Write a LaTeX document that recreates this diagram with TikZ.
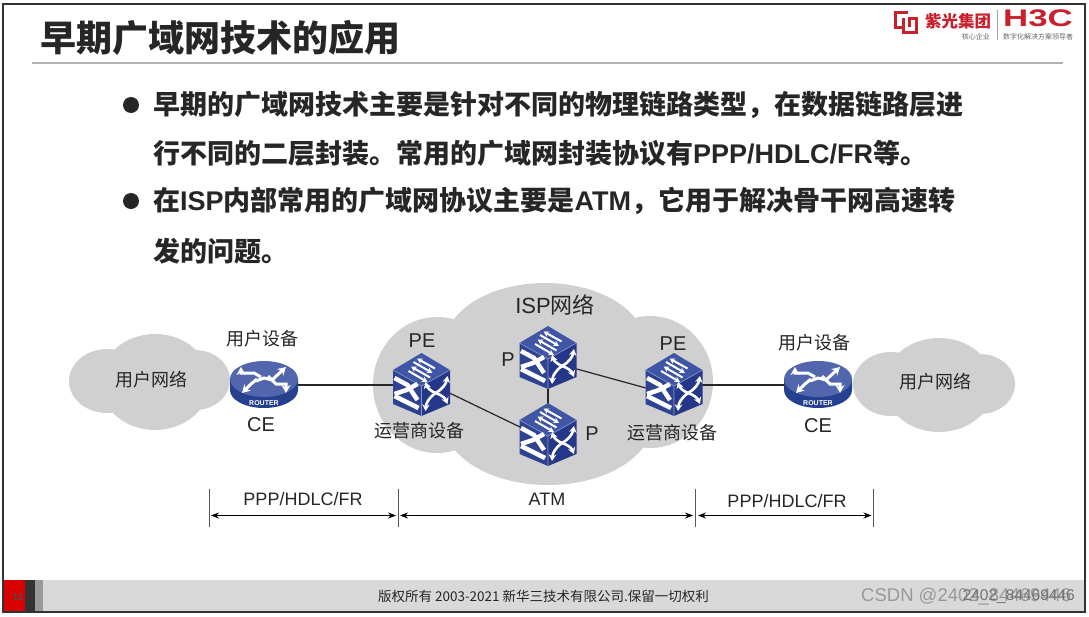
\documentclass[tikz,border=0pt]{standalone}
\usepackage{fontspec}
\setmainfont{Liberation Sans}
\newfontfamily\cjk{Noto Sans CJK SC}
\usetikzlibrary{arrows.meta}
\definecolor{cloudgray}{HTML}{D0D0D0}
\definecolor{inkdark}{HTML}{262626}
\definecolor{logored}{HTML}{C8202C}
\definecolor{icontop}{HTML}{3F55A5}
\definecolor{iconleft}{HTML}{2E4292}
\definecolor{iconright}{HTML}{253789}
\definecolor{iconside}{HTML}{24408F}
\newcommand{\lat}[1]{{\rmfamily\bfseries #1}}
\tikzset{
    cloudfill/.style={fill=cloudgray, draw=none},
    titletext/.style={anchor=west, inner sep=0pt, text=inkdark, font=\cjk\bfseries\fontsize{36}{36}\selectfont},
    bodytext/.style={anchor=west, inner sep=0pt, text=inkdark, font=\cjk\bfseries\fontsize{27}{27}\selectfont},
    bulletdot/.style={circle, fill=inkdark, inner sep=0pt, minimum size=16pt},
    labeltext/.style={inner sep=0pt, text=inkdark, font=\fontsize{18}{18}\selectfont},
    devtext/.style={inner sep=0pt, text=inkdark, font=\fontsize{20}{20}\selectfont},
    devbox/.style={inner sep=0pt, minimum width=56pt, minimum height=62pt},
    routerbox/.style={inner sep=0pt, minimum width=68pt, minimum height=48pt},
    link/.style={draw=inkdark, line width=1.2pt},
    tickline/.style={draw=black!65, line width=0.8pt},
    spanarrow/.style={draw=black, line width=0.8pt, {Stealth[length=8pt,width=6pt]}-{Stealth[length=8pt,width=6pt]}},
    iconarrow/.style={draw=white, line width=2.6pt, -{Stealth[length=6.5pt,width=7.5pt]}},
    toparrow/.style={draw=white, line width=2pt, -{Stealth[length=5.5pt,width=6pt]}},
    routerarrow/.style={draw=white, line width=3pt, -{Stealth[length=8pt,width=9pt]}},
    iconbar/.style={draw=white, line width=4.5pt},
    switchicon/.pic={
        \fill[icontop] (0,-32) -- (-28.5,-15) -- (0,1) -- (28.5,-15) -- cycle;
        \fill[iconleft] (-28.5,-15) -- (0,1) -- (0,31) -- (-28.5,19) -- cycle;
        \fill[iconright] (28.5,-15) -- (0,1) -- (0,31) -- (28.5,19) -- cycle;
        \draw[icontop!60!white, line width=0.6pt] (-28.5,-15) -- (0,1) -- (28.5,-15) (0,1) -- (0,31);
        % top face
        \draw[toparrow] (13.5,-16.5) -- (-4.5,-26.5);
        \draw[toparrow] (-8,-23) -- (11,-12);
        \draw[toparrow] (8.5,-7.5) -- (-10.5,-18.5);
        \draw[toparrow] (-13,-14) -- (6,-3);
        % left face
        \draw[iconbar] (-27,-7) -- (-14,0) -- (-4,15);
        \draw[iconbar] (-27,9) -- (-15,5) -- (-4,-1);
        \draw[iconbar] (-27,11) -- (-3,23);
        % right face
        \draw[iconarrow] (14,8) to[bend left=25] (4,-3);
        \draw[iconarrow] (14,8) to[bend right=25] (26,-9);
        \draw[iconarrow] (14,8) to[bend right=25] (4,26);
        \draw[iconarrow] (14,8) to[bend left=25] (26,19);
    },
    routericon/.pic={
        \fill[iconside] (-34,-6) -- (-34,5) arc[start angle=180, end angle=0, x radius=34, y radius=18] -- (34,-6) -- cycle;
        \fill[icontop!90!white] (0,-6) ellipse [x radius=34, y radius=18];
        \draw[routerarrow] (-3,-8) -- (-10,-12) -- (-23,-12) -- (-23,-18);
        \draw[routerarrow] (-8,-4) -- (0,-7) -- (8,-5) -- (22,-18);
        \draw[routerarrow] (-7,-6) -- (-13,-1) -- (-22,8);
        \draw[routerarrow] (4,-9) -- (12,-1) -- (22,-1) -- (22,8);
        \node[inner sep=0pt, text=white, font=\bfseries\fontsize{7}{7}\selectfont] at (0,18) {ROUTER};
    },
}
\begin{document}
\begin{tikzpicture}[x=1pt, y=-1pt]
    \useasboundingbox (0,0) rectangle (1089,616);
    \fill[white] (0,0) rectangle (1089,616);

    % footer bar
    \fill[black!15] (3,580) rectangle (1085,611);
    \fill[red!85!black] (3,580) rectangle (25,611);
    \fill[black!80] (25,580) rectangle (35,611);
    \fill[black!40] (35,580) rectangle (43,611);
    \node[inner sep=0pt, text=black!70, font=\bfseries\fontsize{10}{10}\selectfont] (pagenum) at (18,597) {11};
    \node[inner sep=0pt, text=inkdark, font=\cjk\fontsize{13.5}{13.5}\selectfont] (copyright) at (543.5,596) {版权所有 2003-2021 新华三技术有限公司.保留一切权利};

    % slide frame
    \draw[black!80, line width=2pt] (3,3.5) rectangle (1085,612);

    % title
    \node[titletext] (title) at (40,38) {早期广域网技术的应用};
    \draw[black!30, line width=2pt] (32,62.5) -- (1063,62.5);

    % logo
    \draw[logored, line width=3pt] (908,12) -- (895,12) -- (895,27) -- (903,27) (903,18) -- (903,32.5) -- (916,32.5) -- (916,18) -- (909,18) -- (909,27);
    \node[inner sep=0pt, anchor=west, text=logored, font=\cjk\bfseries\fontsize{16.5}{16.5}\selectfont] (logoname) at (925,21) {紫光集团};
    \node[inner sep=0pt, anchor=east, text=black!60, font=\cjk\fontsize{7}{7}\selectfont] (logosub) at (990,37) {核心企业};
    \draw[black!35, line width=0.8pt] (997,10) -- (997,40);
    \node[inner sep=0pt, anchor=west, text=logored, font=\bfseries\fontsize{24}{24}\selectfont] (hthreec) at (1003,18.5) {\scalebox{1.45}[1]{H3C}};
    \node[inner sep=0pt, anchor=west, text=black!60, font=\cjk\fontsize{7}{7}\selectfont] (hthreesub) at (1003,37) {数字化解决方案领导者};

    % bullets
    \node[bulletdot] (dota) at (131,105) {};
    \node[bulletdot] (dotb) at (131,201) {};
    \node[bodytext] (linea) at (153,105) {早期的广域网技术主要是针对不同的物理链路类型，在数据链路层进};
    \node[bodytext] (lineb) at (153,153) {行不同的二层封装。常用的广域网封装协议有\lat{PPP/HDLC/FR}等。};
    \node[bodytext] (linec) at (153,201) {在\lat{ISP}内部常用的广域网协议主要是\lat{ATM}，它用于解决骨干网高速转};
    \node[bodytext] (lined) at (153,251) {发的问题。};

    % clouds
    \foreach \cx/\cy/\rx/\ry in {107/381/38/32, 155/382/55/48, 195/380/35/30,
                                 891/384/38/32, 939/385/55/47, 980/384/35/30,
                                 545/345/100/62, 437/385/64/68, 650/382/63/66, 548/420/105/65}
        \fill[cloudfill] (\cx,\cy) ellipse [x radius=\rx, y radius=\ry];

    % devices
    \node[routerbox] (cea) at (264,385) {};
    \node[devbox] (pea) at (421.5,385) {};
    \node[devbox] (pa) at (548,358) {};
    \node[devbox] (pb) at (548,435) {};
    \node[devbox] (peb) at (674,385) {};
    \node[routerbox] (ceb) at (818,385) {};

    % links go under the icons
    \draw[link] (cea) -- (pea);
    \draw[link] (pea.-16) -- (pb.164);
    \draw[link] (pa) -- (pb);
    \draw[link] (pa.-21) -- (peb.186);
    \draw[link] (peb) -- (ceb);

    \pic at (cea) {routericon};
    \pic at (pea) {switchicon};
    \pic at (pa) {switchicon};
    \pic at (pb) {switchicon};
    \pic at (peb) {switchicon};
    \pic at (ceb) {routericon};

    % labels
    \node[labeltext] (neta) at (151,380) {\cjk 用户网络};
    \node[labeltext] (netb) at (935,382) {\cjk 用户网络};
    \node[labeltext, font=\fontsize{22}{22}\selectfont] (ispnet) at (555,305) {ISP{\cjk 网络}};
    \node[labeltext] (usera) at (262,339) {\cjk 用户设备};
    \node[labeltext] (userb) at (814,343) {\cjk 用户设备};
    \node[devtext] (cetexta) at (261,425) {CE};
    \node[devtext] (cetextb) at (818,426) {CE};
    \node[devtext] (petexta) at (422,341) {PE};
    \node[devtext] (petextb) at (673,344) {PE};
    \node[devtext] (ptexta) at (508,360) {P};
    \node[devtext] (ptextb) at (592,434) {P};
    \node[labeltext] (opa) at (419,431) {\cjk 运营商设备};
    \node[labeltext] (opb) at (672,433) {\cjk 运营商设备};

    % spans at the bottom
    \coordinate (ticka) at (209.5,489);
    \coordinate (tickb) at (398,489);
    \coordinate (tickc) at (695,489);
    \coordinate (tickd) at (873.5,489);
    \foreach \t in {ticka, tickb, tickc, tickd}
        \draw[tickline] (\t) -- ++(0,38);
    \coordinate (spana) at (211,515.5);
    \coordinate (spanb) at (396,515.5);
    \coordinate (spanc) at (400,515.5);
    \coordinate (spand) at (693,515.5);
    \coordinate (spane) at (698,515.5);
    \coordinate (spanf) at (871.5,515.5);
    \draw[spanarrow] (spana) -- (spanb);
    \draw[spanarrow] (spanc) -- (spand);
    \draw[spanarrow] (spane) -- (spanf);
    \node[labeltext] (protoa) at (303,499) {PPP/HDLC/FR};
    \node[labeltext] (protob) at (547,499) {ATM};
    \node[labeltext] (protoc) at (787,501) {PPP/HDLC/FR};

    % watermark
    \node[inner sep=0pt, anchor=west, text=black!40, font=\fontsize{18.5}{18.5}\selectfont] (markb) at (861,597) {CSDN @2402\_84469446};
    \node[inner sep=0pt, anchor=east, text=black!55, font=\fontsize{15.5}{15.5}\selectfont] (marka) at (1075,597) {2402\_84469446};
\end{tikzpicture}
\end{document}
